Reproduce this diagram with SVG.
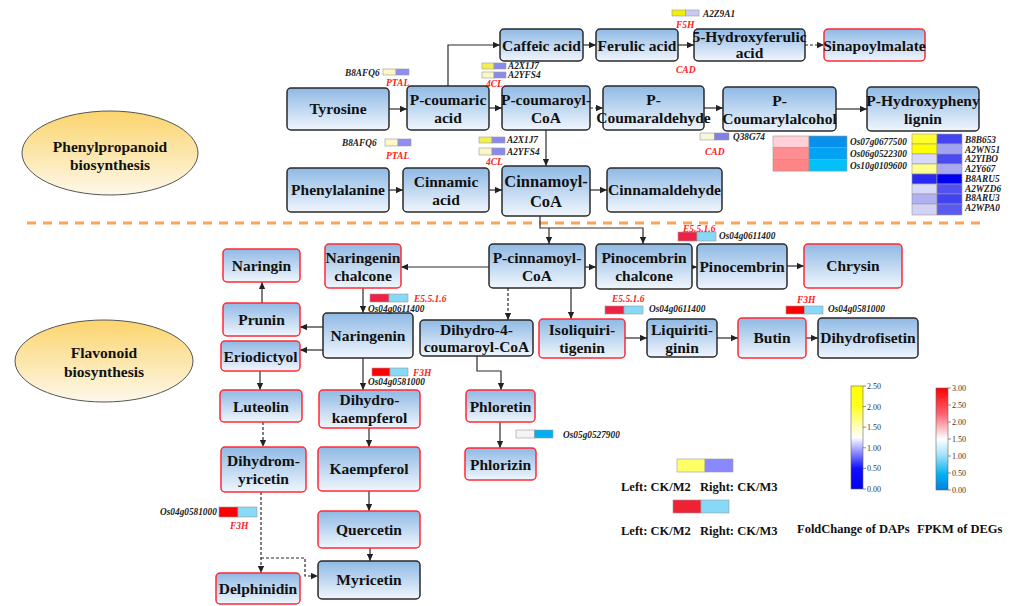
<svg xmlns="http://www.w3.org/2000/svg" width="1015" height="606" viewBox="0 0 1015 606">
<defs>
<linearGradient id="nodeGrad" x1="0" y1="0" x2="0" y2="1">
<stop offset="0" stop-color="#8fb9e4"/>
<stop offset="1" stop-color="#f0f6fd"/>
</linearGradient>
<linearGradient id="ellGrad" x1="0" y1="0" x2="0" y2="1">
<stop offset="0" stop-color="#fbd46c"/>
<stop offset="1" stop-color="#fdf8ea"/>
</linearGradient>
<linearGradient id="dapGrad" x1="0" y1="0" x2="0" y2="1">
<stop offset="0" stop-color="#ffff00"/>
<stop offset="0.2" stop-color="#ffff20"/>
<stop offset="0.38" stop-color="#ffffb0"/>
<stop offset="0.5" stop-color="#ffffff"/>
<stop offset="0.62" stop-color="#a0a0ff"/>
<stop offset="0.8" stop-color="#1010ff"/>
<stop offset="1" stop-color="#0000ee"/>
</linearGradient>
<linearGradient id="degGrad" x1="0" y1="0" x2="0" y2="1">
<stop offset="0" stop-color="#ff0000"/>
<stop offset="0.25" stop-color="#ff6070"/>
<stop offset="0.5" stop-color="#ffffff"/>
<stop offset="0.65" stop-color="#a8e4fb"/>
<stop offset="0.85" stop-color="#00b0f0"/>
<stop offset="1" stop-color="#0080e0"/>
</linearGradient>
<marker id="arr" viewBox="0 0 10 10" refX="10" refY="5" markerWidth="7" markerHeight="7" markerUnits="userSpaceOnUse" orient="auto">
<path d="M0,0.5 L10,5 L0,9.5 z" fill="#222"/>
</marker>
<style>
text{font-family:'Liberation Serif','Times New Roman','DejaVu Serif',serif}
.n rect{fill:url(#nodeGrad);stroke:#2a2a2a;stroke-width:1.5}
.r rect{fill:url(#nodeGrad);stroke:#ff2a35;stroke-width:1.5}
.n text,.r text{font-weight:bold;font-size:15.5px;fill:#111;text-anchor:middle}
.c path{fill:none;stroke:#2a2a2a;stroke-width:1.2;marker-end:url(#arr)}
.c path.d{stroke-dasharray:3,2}
.g{font-weight:bold;font-style:italic;font-size:9.3px;fill:#222}
.e{font-weight:bold;font-style:italic;font-size:9.5px;fill:#ff2020}
.hm rect{stroke:#9a9a9a;stroke-width:0.6}
.lg{font-weight:bold;font-size:12.5px;fill:#111}
.tk{font-size:8px;fill:#333}
.el{font-weight:bold;font-size:15.5px;fill:#111;text-anchor:middle}
</style>
</defs>
<rect width="1015" height="606" fill="#ffffff"/>

<!-- section labels -->
<g id="phenylpropanoid-label">
<ellipse cx="110" cy="153" rx="88" ry="42" fill="url(#ellGrad)" stroke="#555" stroke-width="1"/>
<text class="el" x="110" y="152">Phenylpropanoid</text>
<text class="el" x="110" y="170">biosynthesis</text>
</g>
<g id="flavonoid-label">
<ellipse cx="104" cy="361" rx="89" ry="41" fill="url(#ellGrad)" stroke="#555" stroke-width="1"/>
<text class="el" x="104" y="358">Flavonoid</text>
<text class="el" x="104" y="377">biosynthesis</text>
</g>
<line x1="27" y1="223" x2="985" y2="223" stroke="#f7a55a" stroke-width="3" stroke-dasharray="9,7"/>

<!-- connectors -->
<g id="connectors" class="c">
<path d="M389,109 H407"/>
<path d="M448,86 V45 H500"/>
<path d="M583,45 H596"/>
<path d="M678,45 H694"/>
<path class="d" d="M805,45 H824"/>
<path d="M489,108 H502"/>
<path class="d" d="M590,108 H603"/>
<path d="M704,108 H723"/>
<path d="M836,109 H867"/>
<path d="M546,130 V166"/>
<path d="M389,190 H403"/>
<path d="M489,190 H502"/>
<path d="M590,190 H607"/>
<path d="M540,216 V228 H643 V244"/>
<path d="M549,228 V244"/>
<path d="M489,267 H401"/>
<path d="M585,267 H596"/>
<path d="M692,267 H697"/>
<path d="M787,266 H804"/>
<path class="d" d="M508,288 V320"/>
<path d="M571,288 V319"/>
<path d="M625,338 H647"/>
<path d="M717,338 H738"/>
<path d="M806,338 H818"/>
<path d="M363,288 V313"/>
<path d="M323,327 H300"/>
<path d="M323,350 H300"/>
<path d="M262,303 V282"/>
<path d="M260,371 V390"/>
<path class="d" d="M263,422 V447"/>
<path class="d" d="M261,492 V573"/>
<path class="d" d="M261,558 H305 V576 H318"/>
<path d="M363,358 V390"/>
<path d="M369,428 V447"/>
<path d="M369,491 V511"/>
<path d="M370,548 V561"/>
<path d="M477,356 V371 H501 V390"/>
<path d="M500,422 V448"/>
</g>

<!-- top nodes -->
<g id="caffeic-acid" class="n"><rect x="500" y="29" width="83" height="32" rx="4"/><text x="541.5" y="50.5">Caffeic acid</text></g>
<g id="ferulic-acid" class="n"><rect x="596" y="29" width="82" height="32" rx="4"/><text x="637" y="50.5">Ferulic acid</text></g>
<g id="hydroxyferulic-acid" class="n"><rect x="694" y="29" width="111" height="32" rx="4"/><text x="749.5" y="42">5-Hydroxyferulic</text><text x="749.5" y="58">acid</text></g>
<g id="sinapoylmalate" class="r"><rect x="824" y="29" width="101" height="32" rx="4"/><text x="874.5" y="50.5">Sinapoylmalate</text></g>
<g id="tyrosine" class="n"><rect x="287" y="88" width="102" height="42" rx="4"/><text x="338" y="114">Tyrosine</text></g>
<g id="p-coumaric-acid" class="n"><rect x="407" y="86" width="82" height="44" rx="4"/><text x="448" y="105">P-coumaric</text><text x="448" y="123">acid</text></g>
<g id="p-coumaroyl-coa" class="n"><rect x="502" y="86" width="88" height="44" rx="4"/><text x="546" y="105">P-coumaroyl-</text><text x="546" y="123">CoA</text></g>
<g id="p-coumaraldehyde" class="n"><rect x="603" y="86" width="101" height="44" rx="4"/><text x="653.5" y="105">P-</text><text x="653.5" y="123">Coumaraldehyde</text></g>
<g id="p-coumarylalcohol" class="n"><rect x="723" y="87" width="113" height="44" rx="4"/><text x="779.5" y="106">P-</text><text x="779.5" y="124">Coumarylalcohol</text></g>
<g id="p-hydroxyphenylignin" class="n"><rect x="867" y="87" width="112" height="44" rx="4"/><text x="923" y="106">P-Hydroxypheny</text><text x="923" y="124">lignin</text></g>
<g id="phenylalanine" class="n"><rect x="287" y="168" width="102" height="44" rx="4"/><text x="338" y="195">Phenylalanine</text></g>
<g id="cinnamic-acid" class="n"><rect x="403" y="168" width="86" height="44" rx="4"/><text x="446" y="187">Cinnamic</text><text x="446" y="205">acid</text></g>
<g id="cinnamoyl-coa" class="n"><rect x="502" y="166" width="88" height="50" rx="4"/><text x="546" y="187" style="font-size:16.5px">Cinnamoyl-</text><text x="546" y="207" style="font-size:16.5px">CoA</text></g>
<g id="cinnamaldehyde" class="n"><rect x="607" y="168" width="115" height="44" rx="4"/><text x="664.5" y="195">Cinnamaldehyde</text></g>

<!-- bottom nodes -->
<g id="naringin" class="r"><rect x="223" y="249" width="77" height="33" rx="4"/><text x="261.5" y="271">Naringin</text></g>
<g id="prunin" class="r"><rect x="223" y="303" width="77" height="33" rx="4"/><text x="261.5" y="325">Prunin</text></g>
<g id="eriodictyol" class="r"><rect x="221" y="341" width="79" height="30" rx="4"/><text x="260.5" y="361.5">Eriodictyol</text></g>
<g id="luteolin" class="r"><rect x="220" y="390" width="82" height="32" rx="4"/><text x="261" y="411.5">Luteolin</text></g>
<g id="dihydromyricetin" class="r"><rect x="221" y="447" width="85" height="45" rx="4"/><text x="263.5" y="466">Dihydrom-</text><text x="263.5" y="484">yricetin</text></g>
<g id="delphinidin" class="r"><rect x="216" y="573" width="84" height="31" rx="4"/><text x="258" y="594">Delphinidin</text></g>
<g id="naringenin-chalcone" class="r"><rect x="325" y="244" width="76" height="44" rx="4"/><text x="363" y="263">Naringenin</text><text x="363" y="281">chalcone</text></g>
<g id="naringenin" class="n"><rect x="323" y="313" width="90" height="45" rx="4"/><text x="368" y="341">Naringenin</text></g>
<g id="dihydrokaempferol" class="r"><rect x="319" y="390" width="101" height="38" rx="4"/><text x="369.5" y="405">Dihydro-</text><text x="369.5" y="423">kaempferol</text></g>
<g id="kaempferol" class="r"><rect x="318" y="447" width="102" height="44" rx="4"/><text x="369" y="474">Kaempferol</text></g>
<g id="quercetin" class="r"><rect x="318" y="511" width="102" height="37" rx="4"/><text x="369" y="535">Quercetin</text></g>
<g id="myricetin" class="n"><rect x="318" y="561" width="102" height="38" rx="4"/><text x="369" y="585">Myricetin</text></g>
<g id="p-cinnamoyl-coa" class="n"><rect x="489" y="244" width="96" height="44" rx="4"/><text x="537" y="263">P-cinnamoyl-</text><text x="537" y="281">CoA</text></g>
<g id="dihydro-4-coumaroyl-coa" class="n"><rect x="420" y="320" width="113" height="36" rx="4"/><text x="476.5" y="335">Dihydro-4-</text><text x="476.5" y="352">coumaroyl-CoA</text></g>
<g id="phloretin" class="r"><rect x="466" y="390" width="69" height="32" rx="4"/><text x="500.5" y="411.5">Phloretin</text></g>
<g id="phlorizin" class="r"><rect x="465" y="448" width="71" height="32" rx="4"/><text x="500.5" y="469.5">Phlorizin</text></g>
<g id="isoliquiritigenin" class="r"><rect x="539" y="319" width="86" height="39" rx="4"/><text x="582" y="335">Isoliquiri-</text><text x="582" y="353">tigenin</text></g>
<g id="liquiritiginin" class="n"><rect x="647" y="319" width="70" height="38" rx="4"/><text x="682" y="335">Liquiriti-</text><text x="682" y="353">ginin</text></g>
<g id="pinocembrin-chalcone" class="n"><rect x="596" y="244" width="96" height="45" rx="4"/><text x="644" y="263">Pinocembrin</text><text x="644" y="281">chalcone</text></g>
<g id="pinocembrin" class="n"><rect x="697" y="244" width="90" height="45" rx="4"/><text x="742" y="272">Pinocembrin</text></g>
<g id="chrysin" class="r"><rect x="804" y="244" width="98" height="44" rx="4"/><text x="853" y="271">Chrysin</text></g>
<g id="butin" class="r"><rect x="738" y="318" width="68" height="40" rx="4"/><text x="772" y="343">Butin</text></g>
<g id="dihydrofisetin" class="n"><rect x="818" y="318" width="100" height="40" rx="4"/><text x="868" y="343">Dihydrofisetin</text></g>

<!-- gene annotations: top -->
<g id="ann-ptal-1" class="hm">
<rect x="383" y="69" width="13" height="6" fill="#fbf7c6"/><rect x="396" y="69" width="13" height="6" fill="#8f8ff2"/>
<text class="g" x="345" y="76">B8AFQ6</text><text class="e" x="386" y="86">PTAL</text>
</g>
<g id="ann-4cl-1" class="hm">
<rect x="482" y="63" width="12" height="6" fill="#f3ef50"/><rect x="494" y="63" width="12" height="6" fill="#8a8aee"/>
<rect x="482" y="72" width="12" height="6" fill="#fbf7c6"/><rect x="494" y="72" width="12" height="6" fill="#8a8aee"/>
<text class="g" x="508" y="69">A2X1J7</text><text class="g" x="508" y="78">A2YFS4</text>
<text class="e" x="486" y="87">4CL</text>
</g>
<g id="ann-f5h" class="hm">
<rect x="672" y="10" width="13.5" height="6" fill="#f2f000"/><rect x="685.5" y="10" width="13.5" height="6" fill="#c9c9f4"/>
<text class="g" x="703" y="17">A2Z9A1</text><text class="e" x="676" y="28">F5H</text>
</g>
<text class="e" x="676" y="73">CAD</text>
<g id="ann-ptal-2" class="hm">
<rect x="385" y="139" width="13" height="7" fill="#fbf7c6"/><rect x="398" y="139" width="13" height="7" fill="#8f8ff2"/>
<text class="g" x="342" y="146">B8AFQ6</text><text class="e" x="386" y="159">PTAL</text>
</g>
<g id="ann-4cl-2" class="hm">
<rect x="479" y="137" width="13" height="6" fill="#f3ef50"/><rect x="492" y="137" width="13" height="6" fill="#8a8aee"/>
<rect x="479" y="148" width="13" height="7" fill="#fbf7c6"/><rect x="492" y="148" width="13" height="7" fill="#8a8aee"/>
<text class="g" x="507" y="143">A2X1J7</text><text class="g" x="507" y="155">A2YFS4</text>
<text class="e" x="486" y="165">4CL</text>
</g>
<g id="ann-cad" class="hm">
<rect x="700" y="133" width="14.5" height="7" fill="#f8f5d8"/><rect x="714.5" y="133" width="14.5" height="7" fill="#8080e8"/>
<text class="g" x="733" y="140">Q38G74</text><text class="e" x="705" y="155">CAD</text>
</g>
<g id="heatmap-degs" class="hm">
<rect x="773" y="136" width="36" height="11.7" fill="#ffd0d8"/><rect x="809" y="136" width="38" height="11.7" fill="#0890ee"/>
<rect x="773" y="147.7" width="36" height="11.7" fill="#ff8e92"/><rect x="809" y="147.7" width="38" height="11.7" fill="#04a2f2"/>
<rect x="773" y="159.4" width="36" height="11.7" fill="#ff8486"/><rect x="809" y="159.4" width="38" height="11.7" fill="#04c0f8"/>
<text class="g" x="850" y="145">Os07g0677500</text>
<text class="g" x="850" y="157">Os06g0522300</text>
<text class="g" x="850" y="169">Os10g0109600</text>
</g>
<g id="heatmap-daps" class="hm">
<rect x="912" y="134" width="25" height="10" fill="#ffff30"/><rect x="937" y="134" width="25" height="10" fill="#4444f0"/>
<rect x="912" y="144" width="25" height="10" fill="#ffff00"/><rect x="937" y="144" width="25" height="10" fill="#a2a2f2"/>
<rect x="912" y="154" width="25" height="10" fill="#d8d8f8"/><rect x="937" y="154" width="25" height="10" fill="#4a4af0"/>
<rect x="912" y="164" width="25" height="10" fill="#ffff90"/><rect x="937" y="164" width="25" height="10" fill="#a8a8f2"/>
<rect x="912" y="174" width="25" height="10" fill="#2a2af0"/><rect x="937" y="174" width="25" height="10" fill="#0000f0"/>
<rect x="912" y="184" width="25" height="10" fill="#d8d8f8"/><rect x="937" y="184" width="25" height="10" fill="#5252f0"/>
<rect x="912" y="194" width="25" height="10" fill="#b0b0f2"/><rect x="937" y="194" width="25" height="10" fill="#4242f0"/>
<rect x="912" y="204" width="25" height="11" fill="#d2d2f8"/><rect x="937" y="204" width="25" height="11" fill="#5a5af0"/>
<text class="g" x="965" y="143">B8B653</text>
<text class="g" x="965" y="152.5">A2WN51</text>
<text class="g" x="965" y="162">A2YIBO</text>
<text class="g" x="965" y="171.5">A2Y667</text>
<text class="g" x="965" y="182">B8ARU5</text>
<text class="g" x="965" y="191.5">A2WZD6</text>
<text class="g" x="965" y="201">B8ARU3</text>
<text class="g" x="965" y="210.5">A2WPA0</text>
</g>

<!-- gene annotations: bottom -->
<g id="ann-e5516-pino" class="hm">
<rect x="678" y="232" width="19" height="9" fill="#ee2244"/><rect x="697" y="232" width="19" height="9" fill="#88d8f8"/>
<text class="e" x="683" y="232">E5.5.1.6</text><text class="g" x="719" y="239">Os04g0611400</text>
</g>
<g id="ann-e5516-nar" class="hm">
<rect x="370" y="294" width="19" height="8" fill="#ee2244"/><rect x="389" y="294" width="19" height="8" fill="#88d8f8"/>
<text class="e" x="414" y="302">E5.5.1.6</text><text class="g" x="368" y="312">Os04g0611400</text>
</g>
<g id="ann-e5516-iso" class="hm">
<rect x="605" y="306" width="19" height="8" fill="#ee2244"/><rect x="624" y="306" width="19" height="8" fill="#88d8f8"/>
<text class="e" x="612" y="302">E5.5.1.6</text><text class="g" x="649" y="312">Os04g0611400</text>
</g>
<g id="ann-f3h-nar" class="hm">
<rect x="372" y="368" width="18" height="8" fill="#ff0000"/><rect x="390" y="368" width="18" height="8" fill="#88d8f8"/>
<text class="e" x="413" y="376">F3H</text><text class="g" x="368" y="385">Os04g0581000</text>
</g>
<g id="ann-f3h-butin" class="hm">
<rect x="786" y="306" width="18.5" height="8" fill="#ff0000"/><rect x="804.5" y="306" width="18.5" height="8" fill="#88d8f8"/>
<text class="e" x="797" y="303">F3H</text><text class="g" x="828" y="312">Os04g0581000</text>
</g>
<g id="ann-phlorizin" class="hm">
<rect x="516" y="430" width="18.5" height="8" fill="#f4f4f4"/><rect x="534.5" y="430" width="18.5" height="8" fill="#00b0f0"/>
<text class="g" x="563" y="438">Os05g0527900</text>
</g>
<g id="ann-f3h-dhm" class="hm">
<rect x="219" y="507" width="19" height="10" fill="#ff0000"/><rect x="238" y="507" width="19" height="10" fill="#88d8f8"/>
<text class="g" x="160" y="515">Os04g0581000</text><text class="e" x="230" y="529">F3H</text>
</g>

<!-- legend -->
<g id="legend-daps" class="hm">
<rect x="677" y="459" width="28" height="13" fill="#ffff66"/><rect x="705" y="459" width="28" height="13" fill="#8888ff"/>
<text class="lg" x="621" y="491">Left: CK/M2</text><text class="lg" x="700" y="491">Right: CK/M3</text>
</g>
<g id="legend-degs" class="hm">
<rect x="673" y="500" width="28" height="13" fill="#ee2233"/><rect x="701" y="500" width="28" height="13" fill="#88d8f8"/>
<text class="lg" x="621" y="535">Left: CK/M2</text><text class="lg" x="700" y="535">Right: CK/M3</text>
</g>
<g id="colorbar-daps">
<rect x="851" y="386" width="12" height="103" fill="url(#dapGrad)" stroke="#666" stroke-width="0.6"/>
<g stroke="#444" stroke-width="0.6">
<line x1="863" y1="386" x2="866" y2="386"/><line x1="863" y1="406.6" x2="866" y2="406.6"/><line x1="863" y1="427.2" x2="866" y2="427.2"/><line x1="863" y1="447.8" x2="866" y2="447.8"/><line x1="863" y1="468.4" x2="866" y2="468.4"/><line x1="863" y1="489" x2="866" y2="489"/>
</g>
<text class="tk" x="867" y="389">2.50</text><text class="tk" x="867" y="409.6">2.00</text><text class="tk" x="867" y="430.2">1.50</text><text class="tk" x="867" y="450.8">1.00</text><text class="tk" x="867" y="471.4">0.50</text><text class="tk" x="867" y="492">0.00</text>
<text class="lg" x="797" y="533">FoldChange of DAPs</text>
</g>
<g id="colorbar-degs">
<rect x="936" y="388" width="12" height="102" fill="url(#degGrad)" stroke="#666" stroke-width="0.6"/>
<g stroke="#444" stroke-width="0.6">
<line x1="948" y1="388" x2="951" y2="388"/><line x1="948" y1="405" x2="951" y2="405"/><line x1="948" y1="422" x2="951" y2="422"/><line x1="948" y1="439" x2="951" y2="439"/><line x1="948" y1="456" x2="951" y2="456"/><line x1="948" y1="473" x2="951" y2="473"/><line x1="948" y1="490" x2="951" y2="490"/>
</g>
<text class="tk" x="952" y="391">3.00</text><text class="tk" x="952" y="408">2.50</text><text class="tk" x="952" y="425">2.00</text><text class="tk" x="952" y="442">1.50</text><text class="tk" x="952" y="459">1.00</text><text class="tk" x="952" y="476">0.50</text><text class="tk" x="952" y="493">0.00</text>
<text class="lg" x="917" y="533">FPKM of DEGs</text>
</g>
</svg>
